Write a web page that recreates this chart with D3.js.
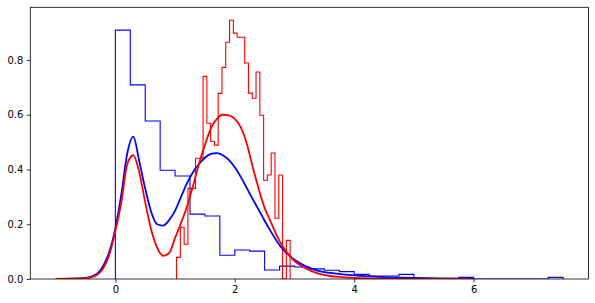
<!doctype html>
<html>
<head>
<style>
  body { margin: 0; background: #fff; }
  .tick text { font-family: "DejaVu Sans", sans-serif; font-size: 10px; fill: #000; }
</style>
<script src="https://d3js.org/d3.v7.min.js"></script>
</head>
<body>
<svg width="595" height="303"></svg>
<script>
// blue histogram: bins of 0.25 from 0 to 7.5 (density)
var blueBinStart = 0, blueBinWidth = 0.25;
var blueHeights = [0.909, 0.709, 0.577, 0.397, 0.376, 0.237, 0.230, 0.087, 0.106, 0.102,
                   0.033, 0.047, 0.044, 0.037, 0.032, 0.027, 0.017, 0.011, 0.011, 0.017,
                   0, 0, 0, 0.006, 0, 0, 0, 0, 0, 0.006];

// red histogram: narrow bins from ~1.03 to ~2.93
var redBinStart = 1.025, redBinWidth = 0.0634;
var redHeights = [0.079, 0.189, 0.127, 0.331, 0.331, 0.441, 0.441, 0.740, 0.569, 0.503,
                  0.489, 0.678, 0.773, 0.865, 0.945, 0.898, 0.883, 0.883, 0.789, 0.679,
                  0.660, 0.756, 0.598, 0.361, 0.380, 0.460, 0.222, 0.380, 0, 0.141];

// density curves
var kdeX = [-1, -0.75, -0.5, -0.4, -0.3, -0.2, -0.1, 0, 0.1, 0.2, 0.3, 0.4, 0.5, 0.6, 0.7, 0.8, 0.9,
            1.0, 1.1, 1.2, 1.3, 1.4, 1.5, 1.6, 1.7, 1.8, 1.9, 2.0, 2.1, 2.2, 2.3, 2.4, 2.5, 2.6,
            2.7, 2.8, 2.9, 3.0, 3.2, 3.4, 3.6, 3.8, 4.0, 4.5, 5.0, 5.5, 6.0];
var blueKde = [0, 0.001, 0.004, 0.009, 0.02, 0.05, 0.10, 0.185, 0.31, 0.46, 0.52, 0.43, 0.33, 0.245,
               0.2, 0.195, 0.215, 0.25, 0.30, 0.35, 0.39, 0.42, 0.443, 0.457, 0.46, 0.452, 0.435,
               0.408, 0.373, 0.333, 0.292, 0.253, 0.213, 0.175, 0.14, 0.11, 0.088, 0.07, 0.045,
               0.03, 0.022, 0.017, 0.013, 0.007, 0.004, 0.002, 0.001];
var redKde = [0, 0.001, 0.003, 0.007, 0.016, 0.04, 0.09, 0.175, 0.28, 0.42, 0.452, 0.39, 0.28, 0.18,
              0.115, 0.085, 0.095, 0.15, 0.205, 0.265, 0.34, 0.42, 0.49, 0.55, 0.585, 0.60, 0.598,
              0.585, 0.555, 0.495, 0.41, 0.33, 0.26, 0.21, 0.16, 0.12, 0.09, 0.065, 0.038,
              0.02, 0.011, 0.007, 0.004, 0.001, 0.0005, 0, 0];

var xTicks = [0, 2, 4, 6];
var yTicks = [0, 0.2, 0.4, 0.6, 0.8];

var svg = d3.select("svg"),
    axLeft = 30.3, axRight = 588.5, axTop = 7.3, axBottom = 279;

var x = d3.scaleLinear().domain([-1.425, 7.925]).range([axLeft, axRight]);
var y = d3.scaleLinear().domain([0, 0.9925]).range([axBottom, axTop]);

svg.append("clipPath").attr("id", "clip")
  .append("rect").attr("x", axLeft).attr("y", axTop)
  .attr("width", axRight - axLeft).attr("height", axBottom - axTop);

var plot = svg.append("g").attr("clip-path", "url(#clip)");

function stepPoints(start, width, heights) {
  var pts = [[start, 0]];
  heights.forEach(function(h, i) {
    pts.push([start + i * width, h]);
    pts.push([start + (i + 1) * width, h]);
  });
  pts.push([start + heights.length * width, 0]);
  return pts;
}

var line = d3.line().x(function(d) { return x(d[0]); }).y(function(d) { return y(d[1]); });
var curve = d3.line().curve(d3.curveMonotoneX)
  .x(function(d) { return x(d[0]); }).y(function(d) { return y(d[1]); });

plot.append("path")
  .attr("d", line(stepPoints(blueBinStart, blueBinWidth, blueHeights)))
  .attr("fill", "none").attr("stroke", "#0000ff").attr("stroke-width", 1.1);

plot.append("path")
  .attr("d", line(stepPoints(redBinStart, redBinWidth, redHeights)))
  .attr("fill", "none").attr("stroke", "#ff0000").attr("stroke-width", 1.1);

plot.append("path")
  .attr("d", curve(kdeX.map(function(v, i) { return [v, blueKde[i]]; })))
  .attr("fill", "none").attr("stroke", "#0000ff").attr("stroke-width", 1.8);

plot.append("path")
  .attr("d", curve(kdeX.map(function(v, i) { return [v, redKde[i]]; })))
  .attr("fill", "none").attr("stroke", "#ff0000").attr("stroke-width", 1.8);

var xAxis = svg.append("g")
  .attr("transform", "translate(0," + axBottom + ")")
  .call(d3.axisBottom(x).tickValues(xTicks).tickSize(3.5).tickPadding(3.5).tickFormat(d3.format("d")));

var yAxis = svg.append("g")
  .attr("transform", "translate(" + axLeft + ",0)")
  .call(d3.axisLeft(y).tickValues(yTicks).tickSize(3.5).tickPadding(3.5).tickFormat(d3.format(".1f")));

[xAxis, yAxis].forEach(function(a) {
  a.select(".domain").remove();
  a.selectAll(".tick line").attr("stroke", "#000").attr("stroke-width", 0.8);
});

svg.append("rect")
  .attr("x", axLeft).attr("y", axTop)
  .attr("width", axRight - axLeft).attr("height", axBottom - axTop)
  .attr("fill", "none").attr("stroke", "#000").attr("stroke-width", 0.8);
</script>
</body>
</html>
